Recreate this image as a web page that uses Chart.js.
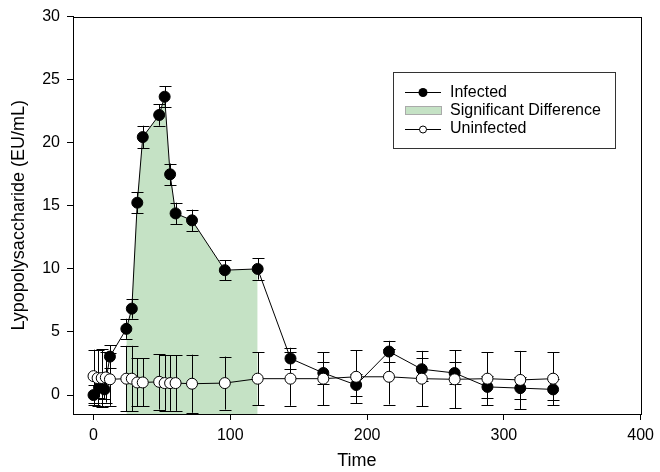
<!DOCTYPE html>
<html lang="en">
<head>
<meta charset="utf-8">
<title>Lypopolysaccharide</title>
<style>
  body { margin: 0; background: #fff; }
</style>
</head>
<body>
<canvas id="lpsChart" width="660" height="472"></canvas>
<script src="https://cdn.jsdelivr.net/npm/chart.js@4.4.1/dist/chart.umd.min.js"></script>
<script>
// data
const infectedTimes = [0, 4, 8, 12, 24, 28, 32, 36, 48, 52, 56, 60, 72, 96, 120, 144, 168, 192, 216, 240, 264, 288, 312, 336];
const infectedValues = [0.0, 0.6, 0.45, 3.05, 5.25, 6.85, 15.25, 20.45, 22.2, 23.65, 17.5, 14.4, 13.85, 9.9, 10.0, 2.9, 1.75, 0.8, 3.45, 2.05, 1.75, 0.65, 0.55, 0.45];
const infectedErrors = [0.8, 0.8, 0.8, 0.9, 0.8, 0.8, 0.85, 0.9, 0.85, 0.85, 0.85, 0.85, 0.85, 0.8, 0.85, 0.85, 0.85, 0.9, 0.85, 0.9, 0.85, 0.85, 0.85, 0.85];

const uninfectedTimes = [0, 3, 6, 9, 12, 24, 28, 32, 36, 48, 52, 56, 60, 72, 96, 120, 144, 168, 192, 216, 240, 264, 288, 312, 336];
const uninfectedValues = [1.5, 1.35, 1.35, 1.4, 1.25, 1.3, 1.3, 1.0, 1.0, 1.05, 0.95, 0.95, 0.95, 0.9, 0.95, 1.3, 1.3, 1.3, 1.45, 1.45, 1.3, 1.25, 1.3, 1.2, 1.3];
const uninfectedErrors = [2.1, 2.2, 2.3, 2.0, 2.1, 2.6, 2.6, 1.9, 1.9, 2.2, 2.2, 2.2, 2.2, 2.3, 2.1, 2.1, 2.15, 2.1, 2.1, 2.2, 2.2, 2.3, 2.1, 2.3, 2.1];

// window with significant difference
const shadeStart = 24;
const shadeEnd = 120;

const xTicks = [0, 100, 200, 300, 400];
const yTicks = [0, 5, 10, 15, 20, 25, 30];

const FONT = "'Liberation Sans', Arial, sans-serif";
const GREEN = '#c5e2c5';

const toPoints = (ts, vs) => ts.map((t, i) => ({ x: t, y: vs[i] }));
const shadePoints = toPoints(infectedTimes, infectedValues).filter(p => p.x >= shadeStart && p.x <= shadeEnd);

const errorBars = {
  id: 'errorBars',
  afterDatasetDraw(chart, args) {
    if (args.index !== 0) return; // right after the green area
    const ctx = chart.ctx;
    const y = chart.scales.y;
    const area = chart.chartArea;
    ctx.save();
    ctx.beginPath();
    ctx.rect(area.left, area.top, area.right - area.left, area.bottom - area.top);
    ctx.clip();
    ctx.strokeStyle = '#000';
    ctx.lineWidth = 1;
    [[1, infectedErrors], [2, uninfectedErrors]].forEach(([ds, errs]) => {
      const meta = chart.getDatasetMeta(ds);
      const data = chart.data.datasets[ds].data;
      meta.data.forEach((pt, i) => {
        const top = y.getPixelForValue(data[i].y + errs[i]);
        const bot = y.getPixelForValue(data[i].y - errs[i]);
        const cx = Math.round(pt.x) + 0.5;
        ctx.beginPath();
        ctx.moveTo(cx, top);
        ctx.lineTo(cx, bot);
        ctx.moveTo(cx - 6, Math.round(top) + 0.5);
        ctx.lineTo(cx + 6, Math.round(top) + 0.5);
        ctx.moveTo(cx - 6, Math.round(bot) + 0.5);
        ctx.lineTo(cx + 6, Math.round(bot) + 0.5);
        ctx.stroke();
      });
    });
    ctx.restore();
  }
};

const frameAndLegend = {
  id: 'frameAndLegend',
  afterDraw(chart) {
    const ctx = chart.ctx;
    const a = chart.chartArea;
    ctx.save();
    ctx.strokeStyle = '#000';
    ctx.lineWidth = 1;
    ctx.strokeRect(Math.round(a.left) + 0.5, Math.round(a.top) + 0.5, Math.round(a.right - a.left), Math.round(a.bottom - a.top));

    // legend box
    ctx.fillStyle = '#fff';
    ctx.fillRect(393.5, 72.5, 222, 76);
    ctx.strokeStyle = '#333';
    ctx.strokeRect(393.5, 72.5, 222, 76);

    ctx.font = '16px ' + FONT;
    ctx.textBaseline = 'middle';
    ctx.textAlign = 'left';

    // infected
    ctx.strokeStyle = '#000';
    ctx.beginPath();
    ctx.moveTo(405, 92.5); ctx.lineTo(441, 92.5); ctx.stroke();
    ctx.fillStyle = '#000';
    ctx.beginPath(); ctx.arc(423, 92.5, 4.5, 0, Math.PI * 2); ctx.fill();
    ctx.fillText('Infected', 450, 93);

    // significant difference
    ctx.fillStyle = GREEN;
    ctx.fillRect(405.5, 106.5, 36, 8);
    ctx.strokeStyle = '#aaa';
    ctx.strokeRect(405.5, 106.5, 36, 8);
    ctx.fillStyle = '#000';
    ctx.fillText('Significant Difference', 450, 111);

    // uninfected
    ctx.strokeStyle = '#000';
    ctx.beginPath();
    ctx.moveTo(405, 129.5); ctx.lineTo(441, 129.5); ctx.stroke();
    ctx.fillStyle = '#fff';
    ctx.beginPath(); ctx.arc(423, 129.5, 3.5, 0, Math.PI * 2); ctx.fill(); ctx.stroke();
    ctx.fillStyle = '#000';
    ctx.fillText('Uninfected', 450, 129);
    ctx.restore();
  }
};

Chart.defaults.font.family = FONT;
Chart.defaults.color = '#000';

new Chart(document.getElementById('lpsChart'), {
  type: 'line',
  data: {
    datasets: [
      {
        label: 'Significant Difference',
        data: shadePoints,
        borderWidth: 0,
        pointRadius: 0,
        backgroundColor: GREEN,
        fill: 'start',
        tension: 0,
        order: 3
      },
      {
        label: 'Infected',
        data: toPoints(infectedTimes, infectedValues),
        borderColor: '#000',
        borderWidth: 1,
        pointRadius: 5.5,
        pointBackgroundColor: '#000',
        pointBorderColor: '#000',
        pointBorderWidth: 1,
        fill: false,
        tension: 0,
        order: 2
      },
      {
        label: 'Uninfected',
        data: toPoints(uninfectedTimes, uninfectedValues),
        borderColor: '#000',
        borderWidth: 1,
        pointRadius: 5.5,
        pointBackgroundColor: '#fff',
        pointBorderColor: '#000',
        pointBorderWidth: 1,
        fill: false,
        tension: 0,
        order: 1
      }
    ]
  },
  options: {
    responsive: false,
    animation: false,
    layout: { padding: { left: 0, top: 14, right: 15, bottom: 0 } },
    plugins: {
      legend: { display: false },
      tooltip: { enabled: false },
      filler: { drawTime: 'beforeDatasetDraw' }
    },
    scales: {
      x: {
        type: 'linear',
        min: -15,
        max: 400,
        afterFit(scale) { scale.height = 58; },
        afterBuildTicks(scale) { scale.ticks = xTicks.map(v => ({ value: v })); },
        grid: { display: true, drawOnChartArea: false, drawTicks: true, tickLength: 6, color: '#000' },
        border: { display: true, color: '#000' },
        ticks: { font: { size: 16 }, padding: 6, maxRotation: 0 },
        title: { display: true, text: 'Time', font: { size: 18 }, padding: { top: 0, bottom: 0 } }
      },
      y: {
        type: 'linear',
        min: -1.5,
        max: 30,
        afterFit(scale) { scale.width = 73; },
        afterBuildTicks(scale) { scale.ticks = yTicks.map(v => ({ value: v })); },
        grid: { display: true, drawOnChartArea: false, drawTicks: true, tickLength: 6, color: '#000' },
        border: { display: true, color: '#000' },
        ticks: { font: { size: 16 }, padding: 7 },
        title: { display: true, text: 'Lypopolysaccharide (EU/mL)', font: { size: 18 }, padding: { top: 8, bottom: 0 } }
      }
    }
  },
  plugins: [errorBars, frameAndLegend]
});
</script>
</body>
</html>
